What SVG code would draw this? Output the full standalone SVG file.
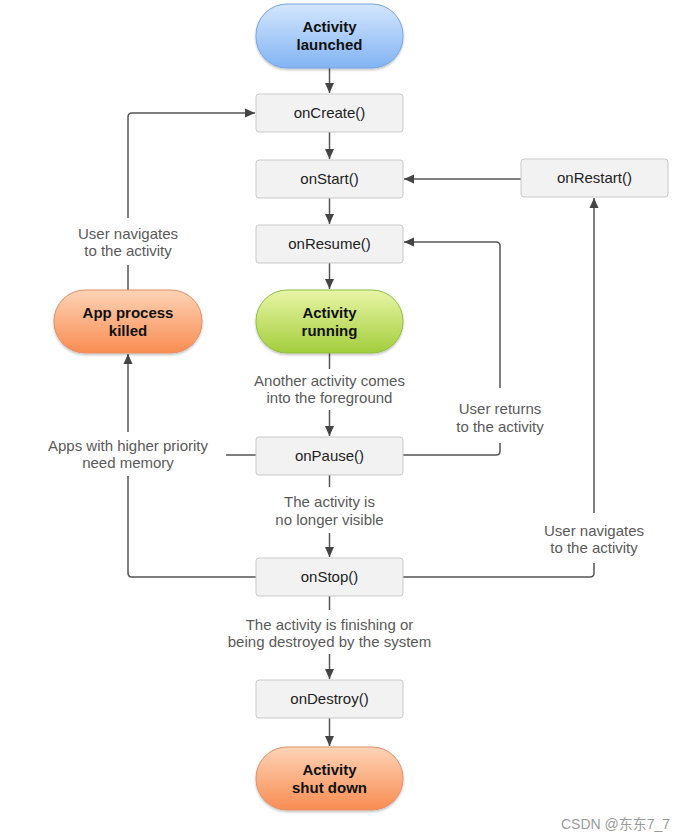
<svg xmlns="http://www.w3.org/2000/svg" width="686" height="840" viewBox="0 0 686 840">
<style>
.box{fill:#f2f2f2;stroke:#c9c9c9;stroke-width:1}
.bt{font-family:"Liberation Sans",Arial,sans-serif;font-size:15px;fill:#222;text-anchor:middle}
.ot{font-family:"Liberation Sans",Arial,sans-serif;font-size:15px;font-weight:bold;fill:#111;text-anchor:middle}
.lb{font-family:"Liberation Sans",Arial,sans-serif;font-size:15px;fill:#5a5a5a;text-anchor:middle}
.ln{fill:none;stroke:#555;stroke-width:1.5}
.wm{font-family:"Liberation Sans","Noto Sans CJK SC",sans-serif;font-size:14px;fill:#9a9a9a}
</style>
<defs>
<linearGradient id="gb" x1="0" y1="0" x2="0" y2="1"><stop offset="0" stop-color="#d3e6fd"/><stop offset="1" stop-color="#82b4f3"/></linearGradient>
<linearGradient id="gg" x1="0" y1="0" x2="0" y2="1"><stop offset="0" stop-color="#e8f5a6"/><stop offset="1" stop-color="#a3cd3c"/></linearGradient>
<linearGradient id="go" x1="0" y1="0" x2="0" y2="1"><stop offset="0" stop-color="#fdd3b6"/><stop offset="1" stop-color="#f98c52"/></linearGradient>
<filter id="sh" x="-10%" y="-10%" width="120%" height="130%"><feDropShadow dx="0" dy="1.5" stdDeviation="1.2" flood-color="#000" flood-opacity="0.25"/></filter>
<marker id="ar" viewBox="0 0 10 10" refX="10" refY="5" markerWidth="10" markerHeight="10" markerUnits="userSpaceOnUse" orient="auto"><path d="M0,0.5 L10,5 L0,9.5 Z" fill="#444"/></marker>
</defs>

<g id="connectors">
<line class="ln" x1="329.5" y1="68" x2="329.5" y2="93" marker-end="url(#ar)"/>
<line class="ln" x1="329.5" y1="132" x2="329.5" y2="159" marker-end="url(#ar)"/>
<line class="ln" x1="329.5" y1="198" x2="329.5" y2="224" marker-end="url(#ar)"/>
<line class="ln" x1="329.5" y1="263" x2="329.5" y2="289" marker-end="url(#ar)"/>
<line class="ln" x1="329.5" y1="353" x2="329.5" y2="369"/>
<line class="ln" x1="329.5" y1="410" x2="329.5" y2="436" marker-end="url(#ar)"/>
<line class="ln" x1="329.5" y1="475" x2="329.5" y2="487"/>
<line class="ln" x1="329.5" y1="533" x2="329.5" y2="557" marker-end="url(#ar)"/>
<line class="ln" x1="329.5" y1="596" x2="329.5" y2="610"/>
<line class="ln" x1="329.5" y1="654" x2="329.5" y2="679" marker-end="url(#ar)"/>
<line class="ln" x1="329.5" y1="718" x2="329.5" y2="746" marker-end="url(#ar)"/>
<line class="ln" x1="521" y1="179" x2="404" y2="179" marker-end="url(#ar)"/>
<path class="ln" d="M403,455 H496 Q500,455 500,451 V443"/>
<path class="ln" d="M500,388 V246 Q500,242 496,242 H404" marker-end="url(#ar)"/>
<path class="ln" d="M403,577 H590 Q594,577 594,573 V563"/>
<line class="ln" x1="594" y1="513" x2="594" y2="198" marker-end="url(#ar)"/>
<path class="ln" d="M256,577 H132 Q128,577 128,573 V476"/>
<line class="ln" x1="128" y1="432" x2="128" y2="354" marker-end="url(#ar)"/>
<line class="ln" x1="226" y1="455" x2="256" y2="455"/>
<line class="ln" x1="128" y1="290" x2="128" y2="265"/>
<path class="ln" d="M128,218 V117 Q128,113 132,113 H255" marker-end="url(#ar)"/>
<text class="lb" x="128" y="239">User navigates</text>
<text class="lb" x="128" y="256">to the activity</text>
<text class="lb" x="128" y="451">Apps with higher priority</text>
<text class="lb" x="128" y="468">need memory</text>
<text class="lb" x="329.5" y="386">Another activity comes</text>
<text class="lb" x="329.5" y="403">into the foreground</text>
<text class="lb" x="500" y="414">User returns</text>
<text class="lb" x="500" y="432">to the activity</text>
<text class="lb" x="329.5" y="507">The activity is</text>
<text class="lb" x="329.5" y="525">no longer visible</text>
<text class="lb" x="594" y="536">User navigates</text>
<text class="lb" x="594" y="553">to the activity</text>
<text class="lb" x="329.5" y="630">The activity is finishing or</text>
<text class="lb" x="329.5" y="647">being destroyed by the system</text>
</g>

<g id="launched"><rect x="256" y="4" width="147" height="64" rx="31" fill="url(#gb)" stroke="#78a6e2" filter="url(#sh)"/><text class="ot" x="329.5" y="32">Activity</text><text class="ot" x="329.5" y="50">launched</text></g>
<g id="onCreate"><rect class="box" x="256" y="94" width="147" height="38" rx="3"/><text class="bt" x="329.5" y="118">onCreate()</text></g>
<g id="onStart"><rect class="box" x="256" y="160" width="147" height="38" rx="3"/><text class="bt" x="329.5" y="184">onStart()</text></g>
<g id="onRestart"><rect class="box" x="521" y="159" width="147" height="38" rx="3"/><text class="bt" x="594.5" y="183">onRestart()</text></g>
<g id="onResume"><rect class="box" x="256" y="225" width="147" height="38" rx="3"/><text class="bt" x="329.5" y="249">onResume()</text></g>
<g id="running"><rect x="256" y="290" width="147" height="63" rx="31" fill="url(#gg)" stroke="#93bd45" filter="url(#sh)"/><text class="ot" x="329.5" y="318">Activity</text><text class="ot" x="329.5" y="336">running</text></g>
<g id="killed"><rect x="54" y="290" width="148" height="63" rx="31" fill="url(#go)" stroke="#e0916a" filter="url(#sh)"/><text class="ot" x="128" y="318">App process</text><text class="ot" x="128" y="336">killed</text></g>
<g id="onPause"><rect class="box" x="256" y="437" width="147" height="38" rx="3"/><text class="bt" x="329.5" y="461">onPause()</text></g>
<g id="onStop"><rect class="box" x="256" y="558" width="147" height="38" rx="3"/><text class="bt" x="329.5" y="582">onStop()</text></g>
<g id="onDestroy"><rect class="box" x="256" y="680" width="147" height="38" rx="3"/><text class="bt" x="329.5" y="704">onDestroy()</text></g>
<g id="shutdown"><rect x="256" y="747" width="147" height="63" rx="31" fill="url(#go)" stroke="#e0916a" filter="url(#sh)"/><text class="ot" x="329.5" y="775">Activity</text><text class="ot" x="329.5" y="793">shut down</text></g>
<text class="wm" x="561" y="829">CSDN @东东7_7</text>
</svg>
